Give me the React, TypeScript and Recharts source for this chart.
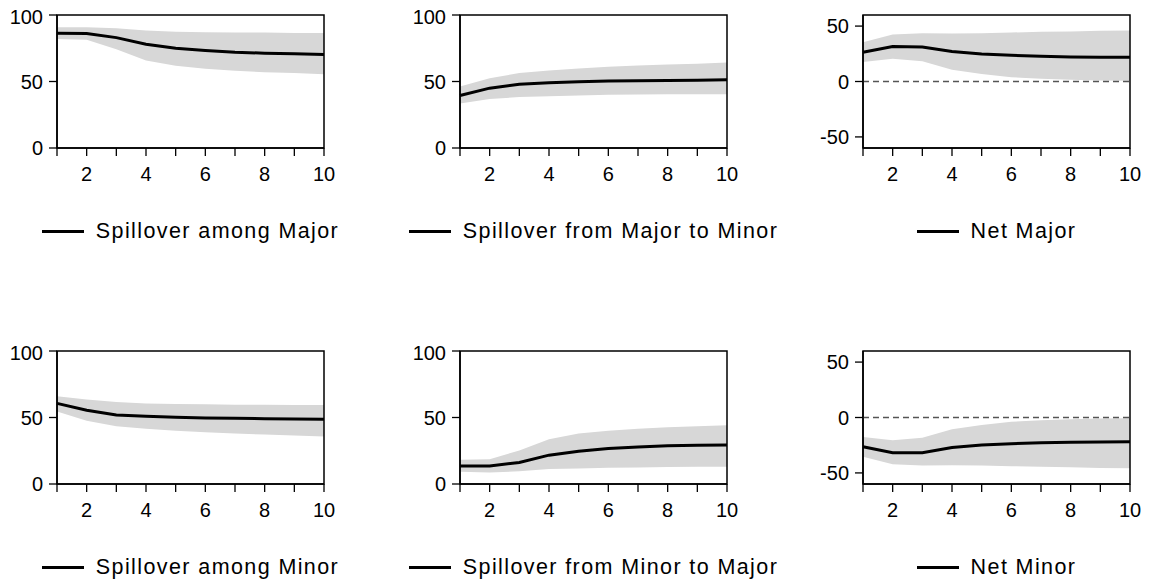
import React from 'react';
import { ComposedChart, Area, Line, XAxis, YAxis, ReferenceLine, ReferenceArea } from 'recharts';

const horizons = [1, 2, 3, 4, 5, 6, 7, 8, 9, 10];

// Spillover among Major
const amongMajorMid = [86.2, 86, 83, 78, 75, 73.3, 72, 71.3, 70.8, 70.3];
const amongMajorLo = [82, 81.3, 74.3, 65.8, 61.8, 59.5, 58, 57, 56.3, 55.5];
const amongMajorHi = [90.8, 90.8, 90, 88.3, 87.5, 87, 86.8, 86.8, 86.5, 86.5];

// Spillover from Major to Minor
const majorToMinorMid = [39.5, 45, 48, 49, 49.8, 50.3, 50.5, 50.8, 51, 51.3];
const majorToMinorLo = [33.5, 36.8, 38.3, 39, 39.5, 40, 40.3, 40.5, 40.5, 40.5];
const majorToMinorHi = [46.3, 52.5, 56.3, 58.3, 59.8, 61, 62, 62.8, 63.3, 64.3];

// Net Major
const netMajorMid = [26.4, 31.5, 31.2, 27, 24.8, 23.6, 22.7, 22.1, 21.8, 21.8];
const netMajorLo = [17.6, 20.6, 18.2, 10.6, 6.7, 3.9, 2.4, 1.5, 0.9, 0.6];
const netMajorHi = [35.5, 42.4, 43.6, 43.3, 43.6, 44.2, 44.8, 45.2, 45.8, 46];

// Spillover among Minor
const amongMinorMid = [60.6, 55.4, 51.9, 50.9, 50.1, 49.6, 49.4, 49.1, 48.9, 48.6];
const amongMinorLo = [54.6, 47.6, 43.4, 41.6, 40.1, 38.9, 37.9, 37.2, 36.4, 35.7];
const amongMinorHi = [66, 63.6, 61.6, 60.6, 60.1, 59.9, 59.6, 59.6, 59.4, 59.4];

// Spillover from Minor to Major
const minorToMajorMid = [13.5, 13.5, 16.2, 21.7, 24.7, 26.7, 27.9, 28.7, 29.2, 29.4];
const minorToMajorLo = [9.2, 8.7, 9.5, 11.2, 11.7, 12.2, 12.5, 12.7, 13, 13];
const minorToMajorHi = [18.2, 18.7, 25.2, 33.7, 37.9, 40.1, 41.6, 42.6, 43.4, 44.1];

// Net Minor
const netMinorMid = [-26.4, -31.8, -31.8, -27, -24.8, -23.6, -22.7, -22.4, -22.1, -21.8];
const netMinorLo = [-35.5, -42.1, -43.3, -43, -43.3, -43.9, -44.5, -44.8, -45.5, -45.8];
const netMinorHi = [-17.6, -20.6, -18.2, -10.6, -6.7, -3.9, -2.4, -1.5, -0.9, -0.6];

const shareTicks = [0, 50, 100];
const netTicks = [-50, 0, 50];

const FONT = '"Liberation Sans", Arial, Helvetica, sans-serif';
const PLOT_W = 267;
const PLOT_H = 133;
const Y_W = 57;
const M_TOP = 10;
const M_RIGHT = 20;
const X_H = 45;

type Panel = {
  title: string;
  mid: number[];
  lo: number[];
  hi: number[];
  net: boolean;
  x: number;
  y: number;
};

const panels: Panel[] = [
  { title: 'Spillover among Major', mid: amongMajorMid, lo: amongMajorLo, hi: amongMajorHi, net: false, x: 57, y: 15 },
  { title: 'Spillover from Major to Minor', mid: majorToMinorMid, lo: majorToMinorLo, hi: majorToMinorHi, net: false, x: 460, y: 15 },
  { title: 'Net Major', mid: netMajorMid, lo: netMajorLo, hi: netMajorHi, net: true, x: 863, y: 15 },
  { title: 'Spillover among Minor', mid: amongMinorMid, lo: amongMinorLo, hi: amongMinorHi, net: false, x: 57, y: 351 },
  { title: 'Spillover from Minor to Major', mid: minorToMajorMid, lo: minorToMajorLo, hi: minorToMajorHi, net: false, x: 460, y: 351 },
  { title: 'Net Minor', mid: netMinorMid, lo: netMinorLo, hi: netMinorHi, net: true, x: 863, y: 351 },
];

const tickStyle = { fill: '#000', fontSize: 20, fontFamily: FONT };

function PanelChart({ p }: { p: Panel }) {
  const data = horizons.map((h, i) => ({ h, mid: p.mid[i], band: [p.lo[i], p.hi[i]] }));
  const domain = p.net ? [-60, 60] : [0, 100];

  return (
    <div style={{ position: 'absolute', left: p.x - Y_W, top: p.y - M_TOP }}>
      <ComposedChart
        width={Y_W + PLOT_W + M_RIGHT}
        height={M_TOP + PLOT_H + X_H}
        data={data}
        margin={{ top: M_TOP, right: M_RIGHT, bottom: 0, left: 0 }}
      >
        <XAxis
          dataKey="h"
          type="number"
          domain={[1, 10]}
          ticks={horizons}
          tickFormatter={(v) => (v % 2 === 0 ? String(v) : '')}
          height={X_H}
          tickSize={8}
          tickMargin={11}
          tick={tickStyle}
          axisLine={{ stroke: '#000', strokeWidth: 1.5 }}
          tickLine={{ stroke: '#000', strokeWidth: 1.3 }}
        />
        <YAxis
          type="number"
          domain={domain}
          ticks={p.net ? netTicks : shareTicks}
          width={Y_W}
          tickSize={8}
          tickMargin={6}
          tick={tickStyle}
          axisLine={{ stroke: '#000', strokeWidth: 1.5 }}
          tickLine={{ stroke: '#000', strokeWidth: 1.3 }}
        />
        <Area dataKey="band" type="linear" fill="#d7d7d7" fillOpacity={1} stroke="none" isAnimationActive={false} />
        {p.net && <ReferenceLine y={0} stroke="#555" strokeWidth={1.5} strokeDasharray="6 4" />}
        <Line dataKey="mid" type="linear" stroke="#000" strokeWidth={3} dot={false} isAnimationActive={false} />
        <ReferenceArea x1={1} x2={10} y1={domain[0]} y2={domain[1]} fill="none" stroke="#000" strokeWidth={1.5} ifOverflow="visible" />
      </ComposedChart>
    </div>
  );
}

function PanelLegend({ p }: { p: Panel }) {
  return (
    <div
      style={{
        position: 'absolute',
        left: p.x + PLOT_W / 2 - 250,
        width: 500,
        top: p.y + 216 - 15,
        height: 30,
        display: 'flex',
        alignItems: 'center',
        justifyContent: 'center',
        fontFamily: FONT,
        fontSize: 21.5,
        letterSpacing: 1.4,
        color: '#000',
        whiteSpace: 'nowrap',
      }}
    >
      <span style={{ display: 'inline-block', width: 42, height: 3, background: '#000', marginRight: 12 }} />
      <span>{p.title}</span>
    </div>
  );
}

export default function App() {
  return (
    <div style={{ position: 'absolute', left: 0, top: 0, width: 1149, height: 583, background: '#fff' }}>
      {panels.map((p) => (
        <PanelChart key={p.title} p={p} />
      ))}
      {panels.map((p) => (
        <PanelLegend key={p.title + '-legend'} p={p} />
      ))}
    </div>
  );
}
